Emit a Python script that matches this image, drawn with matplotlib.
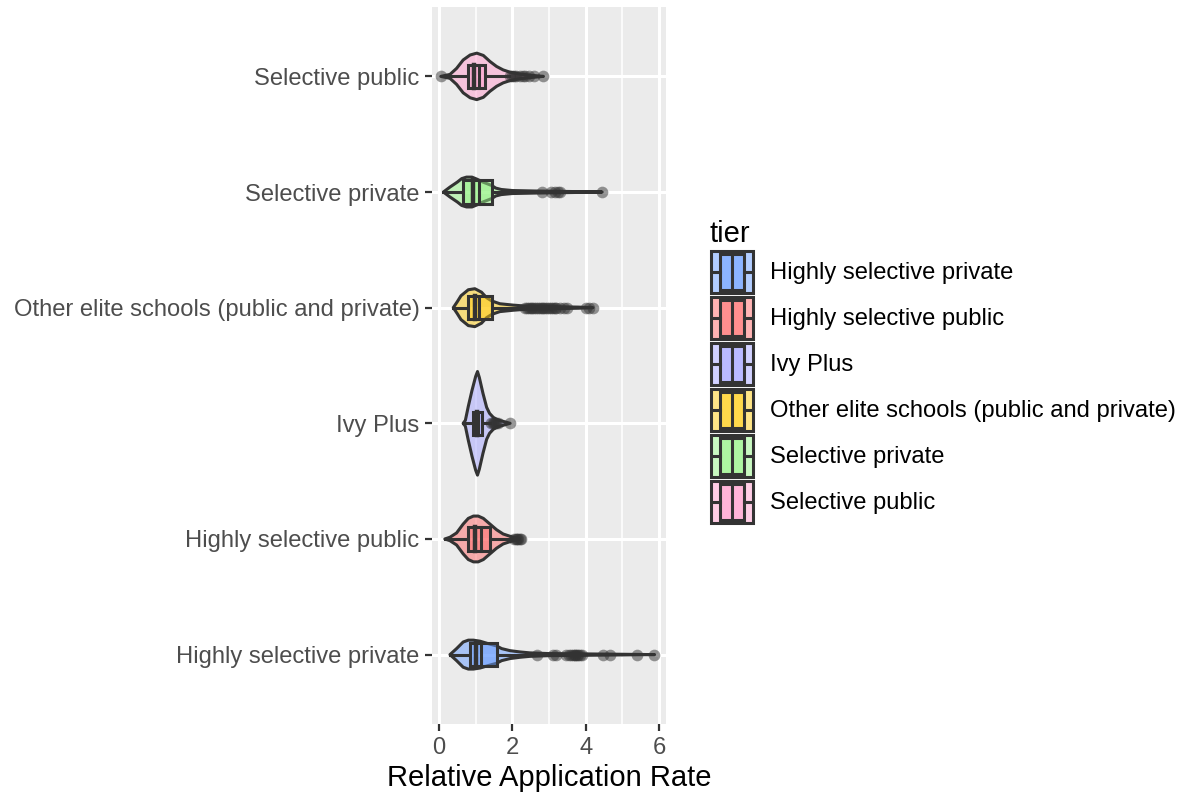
import numpy as np
import matplotlib.pyplot as plt
from matplotlib.patches import Rectangle, Polygon

plt.rcParams['font.family'] = ['Liberation Sans', 'DejaVu Sans']

# ---- data ----
tiers = ["Highly selective private", "Highly selective public", "Ivy Plus",
         "Other elite schools (public and private)", "Selective private", "Selective public"]
tier_colors = ["#679dff", "#ff6b6b", "#a5a5ff", "#ffcd10", "#95f585", "#ff9dcd"]

# violin outlines: positions along x and half widths (category units)
violin_x = [
    [0.30, 0.48, 0.66, 0.80, 0.94, 1.12, 1.34, 1.57, 1.71, 1.94, 2.21, 2.48, 3.0, 4.0, 5.0, 5.88],
    [0.16, 0.30, 0.48, 0.66, 0.80, 0.94, 1.07, 1.21, 1.39, 1.57, 1.75, 1.94, 2.1, 2.2],
    [0.66, 0.72, 0.80, 0.90, 1.00, 1.05, 1.10, 1.20, 1.30, 1.38, 1.48, 1.60, 1.75, 1.94],
    [0.39, 0.50, 0.60, 0.70, 0.80, 0.98, 1.16, 1.30, 1.44, 1.66, 2.03, 2.4, 3.0, 3.8, 4.2],
    [0.12, 0.30, 0.50, 0.62, 0.75, 0.90, 1.03, 1.20, 1.44, 1.55, 1.70, 2.0, 2.6, 3.5, 4.45],
    [0.05, 0.30, 0.48, 0.66, 0.85, 1.03, 1.21, 1.39, 1.57, 1.75, 1.94, 2.21, 2.5, 2.85],
]
violin_hw = [
    [0, .052, .109, .125, .125, .116, .095, .075, .052, .034, .023, .015, .009, .006, .003, 0],
    [0, .015, .052, .129, .178, .198, .198, .178, .129, .080, .043, .023, .010, 0],
    [0, .026, .147, .284, .405, .448, .397, .259, .138, .086, .052, .030, .017, 0],
    [0, .052, .103, .129, .155, .164, .134, .086, .058, .034, .022, .013, .009, .005, 0],
    [0, .043, .086, .116, .129, .129, .112, .086, .056, .034, .022, .013, .009, .005, 0],
    [0, .017, .069, .142, .185, .201, .181, .129, .086, .056, .036, .020, .010, 0],
]

# box stats
q1 = [0.85, 0.80, 0.92, 0.80, 0.66, 0.80]
median = [1.00, 0.98, 1.03, 0.98, 0.93, 0.95]
mean = [1.15, 1.15, 1.07, 1.08, 1.10, 1.10]
q3 = [1.57, 1.40, 1.16, 1.44, 1.44, 1.25]
whisk_lo = [0.30, 0.16, 0.66, 0.39, 0.12, 0.25]
whisk_hi = [2.60, 2.00, 1.40, 2.30, 2.60, 1.90]

outliers = [
    [2.68, 3.1, 3.2, 3.45, 3.55, 3.6, 3.65, 3.7, 3.72, 3.75, 3.8, 3.85, 3.9, 4.48, 4.65, 5.4, 5.87],
    [2.05, 2.1, 2.12, 2.15, 2.2, 2.25],
    [1.42, 1.46, 1.5, 1.53, 1.56, 1.6, 1.93],
    [2.35, 2.4, 2.45, 2.5, 2.55, 2.6, 2.65, 2.7, 2.75, 2.8, 2.85, 2.9, 2.95, 3.0, 3.05, 3.1,
     3.15, 3.2, 3.3, 3.4, 3.5, 4.0, 4.1, 4.2],
    [2.8, 3.05, 3.15, 3.25, 3.3, 4.45],
    [0.05, 1.95, 2.0, 2.05, 2.1, 2.2, 2.3, 2.35, 2.45, 2.6, 2.85],
]

line_col = "#333333"
box_half = 0.1
lw = 2.2

fig = plt.figure(figsize=(11.85, 7.95), dpi=100)
W, H = 1185, 795
ax = fig.add_axes([432 / W, 1 - 724 / H, 234 / W, 717 / H])
ax.set_facecolor("#EBEBEB")
for s in ax.spines.values():
    s.set_visible(False)

ax.set_xlim(-0.19, 6.19)
ax.set_ylim(0.4, 6.6)
ax.set_xticks([0, 2, 4, 6])
ax.set_xticks([1, 3, 5], minor=True)
ax.set_yticks(range(1, 7))
ax.set_yticklabels(tiers)
ax.grid(which="major", color="white", linewidth=2.2)
ax.grid(which="minor", axis="x", color="white", linewidth=1.1)
ax.set_axisbelow(True)
ax.tick_params(axis="both", which="major", length=5, width=1.6, color=line_col,
               labelsize=17.1, labelcolor="#4D4D4D", pad=4)
ax.tick_params(axis="both", which="minor", length=0)
ax.set_xlabel("Relative Application Rate", fontsize=21, color="black", labelpad=4)

for i in range(len(tiers)):
    y0 = i + 1
    col = tier_colors[i]
    xs = np.array(violin_x[i])
    hw = np.array(violin_hw[i])
    pts = np.concatenate([np.column_stack([xs, y0 + hw]),
                          np.column_stack([xs[::-1], y0 - hw[::-1]])])
    ax.add_patch(Polygon(pts, closed=True, facecolor=col, alpha=0.5, edgecolor="none", zorder=3))
    ax.add_patch(Polygon(pts, closed=True, facecolor="none", edgecolor=line_col,
                         linewidth=lw, joinstyle="round", zorder=3))
    # whiskers
    ax.plot([whisk_lo[i], q1[i]], [y0, y0], color=line_col, lw=lw, zorder=4)
    ax.plot([q3[i], whisk_hi[i]], [y0, y0], color=line_col, lw=lw, zorder=4)
    # box
    ax.add_patch(Rectangle((q1[i], y0 - box_half), q3[i] - q1[i], 2 * box_half,
                           facecolor=col, alpha=0.5, edgecolor="none", zorder=4))
    ax.add_patch(Rectangle((q1[i], y0 - box_half), q3[i] - q1[i], 2 * box_half,
                           facecolor="none", edgecolor=line_col, linewidth=lw, zorder=4))
    ax.plot([median[i], median[i]], [y0 - box_half, y0 + box_half], color=line_col, lw=3.2, zorder=5)
    ax.plot([mean[i], mean[i]], [y0 - box_half, y0 + box_half], color=line_col, lw=lw, zorder=5)
    # outliers
    ax.plot(outliers[i], [y0] * len(outliers[i]), "o", color=line_col, alpha=0.5,
            markersize=8.4, markeredgewidth=0, zorder=6)

# ---- legend, drawn in pixel coordinates ----
lg = fig.add_axes([0, 0, 1, 1])
lg.set_xlim(0, W)
lg.set_ylim(H, 0)
lg.axis("off")
lg.text(710, 234, "tier", fontsize=21, va="center", ha="left")
for i, name in enumerate(tiers):
    cy = 271.5 + 46 * i
    col = tier_colors[i]
    lg.add_patch(Rectangle((709.5, cy - 22), 44.5, 44, facecolor=col, alpha=0.5, edgecolor="none"))
    lg.add_patch(Rectangle((710.5, cy - 21), 42.5, 42, facecolor="none", edgecolor=line_col, linewidth=lw))
    lg.add_patch(Rectangle((719.5, cy - 18), 24.5, 36, facecolor=col, alpha=0.5, edgecolor="none"))
    lg.add_patch(Rectangle((719.5, cy - 18), 24.5, 36, facecolor="none", edgecolor=line_col, linewidth=lw))
    lg.plot([731.7, 731.7], [cy - 18, cy + 18], color=line_col, lw=lw)
    lg.plot([713, 719.5], [cy, cy], color=line_col, lw=lw)
    lg.plot([744, 750.5], [cy, cy], color=line_col, lw=lw)
    lg.text(770, cy + 1.5, name, fontsize=17.1, va="center", ha="left")

fig.savefig("out.png", dpi=100)
